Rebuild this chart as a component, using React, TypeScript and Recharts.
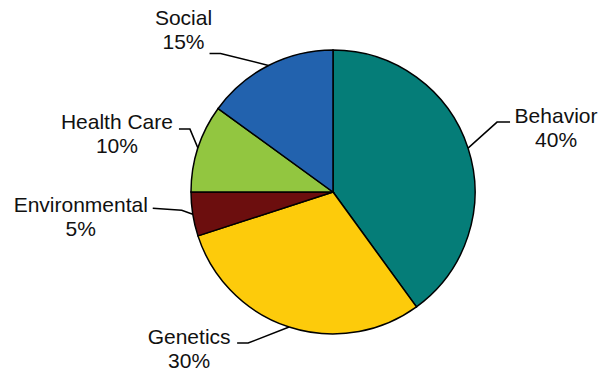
import React from "react";
import { PieChart, Pie, Cell } from "recharts";

const CATEGORIES = ["Behavior", "Genetics", "Environmental", "Health Care", "Social"];
const SHARES = [40, 30, 5, 10, 15];
const COLORS = ["#057D78", "#FDCB0B", "#6C0E0E", "#92C640", "#2262AE"];

// leader line + text offsets, relative to the point on the rim at the slice's mid angle
const LABEL_LAYOUT: Record<string, { elbow: [number, number]; end: [number, number]; text: [number, number] }> = {
    Behavior: { elbow: [29, -26], end: [42, -26], text: [88, -25] },
    Genetics: { elbow: [-41, 16], end: [-52, 16], text: [-100, 17] },
    Environmental: { elbow: [-11, -4], end: [-40, -6], text: [-112, -2] },
    "Health Care": { elbow: [-8, -19], end: [-19, -19], text: [-81, -19] },
    Social: { elbow: [-48, -12], end: [-59, -12], text: [-85, -40] },
};

const data = CATEGORIES.map((name, i) => ({ name, value: SHARES[i] }));

const RAD = Math.PI / 180;

const renderLabel = (props: any) => {
    const { cx, cy, midAngle, outerRadius, name, value } = props;
    const layout = LABEL_LAYOUT[name];
    if (!layout) return null;
    const x = cx + outerRadius * Math.cos(-midAngle * RAD);
    const y = cy + outerRadius * Math.sin(-midAngle * RAD);
    const points = [
        [x, y],
        [x + layout.elbow[0], y + layout.elbow[1]],
        [x + layout.end[0], y + layout.end[1]],
    ]
        .map((p) => p.join(","))
        .join(" ");
    const tx = x + layout.text[0];
    const ty = y + layout.text[1];
    return (
        <g key={`label-${name}`}>
            <polyline points={points} fill="none" stroke="#000" strokeWidth={1.5} />
            <text
                x={tx}
                y={ty}
                textAnchor="middle"
                fill="#111"
                style={{ fontFamily: "'Liberation Sans', Arial, sans-serif", fontSize: 21 }}
            >
                <tspan x={tx} dy={0}>{name}</tspan>
                <tspan x={tx} dy={24}>{`${value}%`}</tspan>
            </text>
        </g>
    );
};

export default function App() {
    return (
        <div style={{ position: "absolute", left: 0, top: 0, width: 598, height: 372, background: "#fff" }}>
            <PieChart width={598} height={372} margin={{ top: 0, right: 0, bottom: 0, left: 0 }}>
                <Pie
                    data={data}
                    dataKey="value"
                    nameKey="name"
                    cx={333}
                    cy={192}
                    outerRadius={142}
                    startAngle={90}
                    endAngle={-270}
                    stroke="#000"
                    strokeWidth={1.5}
                    label={renderLabel}
                    labelLine={false}
                    isAnimationActive={false}
                >
                    {data.map((entry, index) => (
                        <Cell key={`cell-${index}`} fill={COLORS[index % COLORS.length]} />
                    ))}
                </Pie>
            </PieChart>
        </div>
    );
}
